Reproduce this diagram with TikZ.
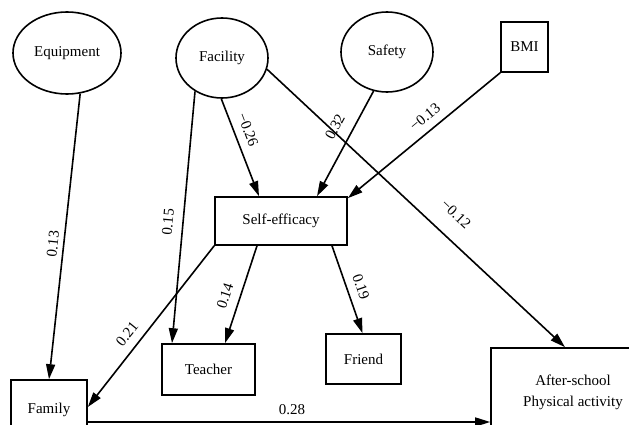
\documentclass[tikz,border=0pt]{standalone}
\usepackage{fontspec}
\setmainfont{Liberation Serif}
\usetikzlibrary{shapes.geometric,arrows.meta}
\begin{document}
\begin{tikzpicture}[x=1pt,y=-1pt,
  font=\fontsize{15}{21}\selectfont,
  line width=1.6pt,
  ell/.style={draw, ellipse, inner sep=0pt},
  box/.style={draw, rectangle, inner sep=0pt, align=center},
  arr/.style={draw, -{Triangle[length=15pt,width=9pt]}},
  lab/.style={inner sep=0pt}]
\useasboundingbox (0,0) rectangle (629,425);
\clip (0,0) rectangle (629,425);
% nodes
\node[ell, minimum width=108, minimum height=82] (equip) at (67,53) {Equipment};
\node[ell, minimum width=92, minimum height=80] (fac) at (222,58) {Facility};
\node[ell, minimum width=92, minimum height=80] (safe) at (387,52) {Safety};
\node[box, minimum width=47, minimum height=50] (bmi) at (524.5,47) {BMI};
\node[box, minimum width=132, minimum height=48] (self) at (281,221) {Self-efficacy};
\node[box, minimum width=93, minimum height=51] (teach) at (208.5,369.5) {Teacher};
\node[box, minimum width=75, minimum height=50] (friend) at (363.5,359) {Friend};
\node[box, minimum width=76, minimum height=60] (fam) at (49,410) {\raisebox{3pt}{Family}};
\node[box, minimum width=164, minimum height=88] (after) at (573,392) {After-school\\Physical activity};
% connectors
\draw[arr] (equip.-72) -- (fam.north);
\draw[arr] (fac.-129) -- ([xshift=-36.5pt]teach.north);
\draw[arr] (fac.-91) -- ([xshift=-22pt]self.north);
\draw[arr] (fac.-14) -- ([xshift=-8pt]after.north);
\draw[arr] (safe.-109) -- ([xshift=36pt]self.north);
\draw[arr] (bmi.south west) -- ([yshift=-2pt]self.north east);
\draw[arr] ([xshift=-24pt]self.south) -- ([xshift=16.5pt]teach.north);
\draw[arr] (self.south west) -- ([yshift=3pt]fam.east);
\draw[arr] ([xshift=51pt]self.south) -- ([xshift=-1pt]friend.north);
\draw[arr] ([yshift=-12pt]fam.east) -- ([yshift=-30pt]after.west);
% labels
\node[lab, rotate=84] at (53,244) {0.13};
\node[lab, rotate=85] at (168,222) {0.15};
\node[lab, rotate=-69] at (248,130) {−0.26};
\node[lab, rotate=62] at (335,127) {0.32};
\node[lab, rotate=39.5] at (425,117) {−0.13};
\node[lab, rotate=-43.5] at (456,214) {−0.12};
\node[lab, rotate=72] at (225,296) {0.14};
\node[lab, rotate=51] at (127,334) {0.21};
\node[lab, rotate=-71] at (361,287) {0.19};
\node[lab] at (292,410) {0.28};
\end{tikzpicture}
\end{document}
